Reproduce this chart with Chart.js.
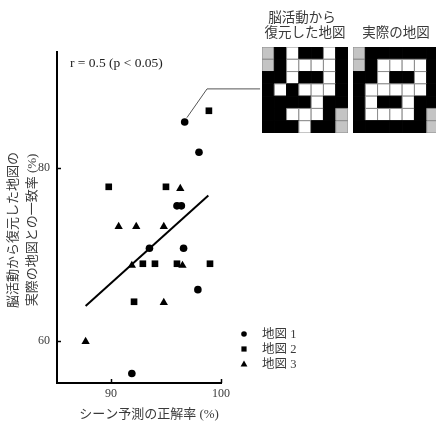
<!DOCTYPE html>
<html>
<head>
<meta charset="utf-8">
<script src="https://cdn.jsdelivr.net/npm/chart.js@4/dist/chart.umd.min.js"></script>
<style>
  html, body { margin: 0; padding: 0; background: #fff; overflow: hidden; width: 436px; height: 423px; }
  #wrap { position: relative; width: 436px; height: 423px; }
  #main { position: absolute; left: 0; top: 0; }
  #mapA { position: absolute; left: 262px; top: 47px; }
  #mapB { position: absolute; left: 353px; top: 47px; }
</style>
</head>
<body>
<div id="wrap">
  <canvas id="main" width="436" height="423"></canvas>
  <canvas id="mapA" width="86" height="86"></canvas>
  <canvas id="mapB" width="86" height="86"></canvas>
</div>
<script>
// Scene-prediction accuracy (%) vs. map agreement (%) for three maps
const map1X = [96.7, 98.0, 96.0, 96.4, 93.5, 96.6, 97.9, 91.9];
const map1Y = [85.3, 81.8, 75.6, 75.6, 70.7, 70.7, 65.9, 56.2];
const map2X = [98.9, 89.8, 95.0, 92.9, 94.0, 96.0, 99.0, 92.1];
const map2Y = [86.6, 77.8, 77.8, 68.9, 68.9, 68.9, 68.9, 64.5];
const map3X = [96.3, 90.7, 92.3, 94.8, 91.9, 96.5, 94.8, 87.7];
const map3Y = [77.6, 73.2, 73.2, 73.2, 68.7, 68.7, 64.4, 59.9];

// Fitted regression line endpoints
const fitX = [87.7, 98.85];
const fitY = [64.0, 76.8];

// Pointer from the highlighted point to the map panels
const pointerX = [96.9, 98.73, 103.55];
const pointerY = [85.8, 89.13, 89.13];

const seriesLabels = ['地図 1', '地図 2', '地図 3'];
const xTicks = [90, 100];
const yTicks = [60, 80];

// 7x7 maps: G = start/goal, B = wall, W = corridor
const decodedMap = ['GBWBBWB', 'GBWWWWB', 'BBWBBWB', 'BWBWWWB', 'BBBBWBB', 'BBWWWBG', 'BBBWBBG'];
const actualMap  = ['GBBBBBB', 'GBWWWWB', 'BBWBBWB', 'BWWWWWB', 'BWBBWBB', 'BWWWWBG', 'BBBBBBG'];

const SERIF = "'Liberation Serif', 'Noto Sans CJK JP', serif";
const TEXT = '#3a3a3a';

function zip(xs, ys) { return xs.map((x, i) => ({ x, y: ys[i] })); }

const decorations = {
  id: 'decorations',
  afterDraw(chart) {
    const { ctx, scales: { x, y } } = chart;
    const area = chart.chartArea;
    ctx.save();

    // inward tick marks
    ctx.strokeStyle = '#000';
    ctx.lineWidth = 1.5;
    xTicks.forEach(v => {
      const px = Math.round(x.getPixelForValue(v)) + 0.5;
      ctx.beginPath(); ctx.moveTo(px, area.bottom); ctx.lineTo(px, area.bottom - 4); ctx.stroke();
    });
    yTicks.forEach(v => {
      const py = Math.round(y.getPixelForValue(v)) + 0.5;
      ctx.beginPath(); ctx.moveTo(area.left, py); ctx.lineTo(area.left + 4, py); ctx.stroke();
    });

    // pointer to the map panels
    ctx.strokeStyle = '#555';
    ctx.lineWidth = 1;
    ctx.beginPath();
    pointerX.forEach((v, i) => {
      const px = x.getPixelForValue(v), py = y.getPixelForValue(pointerY[i]);
      if (i === 0) ctx.moveTo(px, py); else ctx.lineTo(px, py);
    });
    ctx.stroke();

    // correlation note
    ctx.fillStyle = '#222';
    ctx.font = '13.5px ' + SERIF;
    ctx.textAlign = 'left';
    ctx.textBaseline = 'middle';
    ctx.fillText('r = 0.5 (p < 0.05)', 70, 63);

    // axis titles
    ctx.fillStyle = TEXT;
    ctx.font = '13px ' + SERIF;
    ctx.textAlign = 'center';
    ctx.fillText('シーン予測の正解率 (%)', 149, 415);
    ctx.save();
    ctx.translate(14, 230);
    ctx.rotate(-Math.PI / 2);
    ctx.fillText('脳活動から復元した地図の', 0, 0);
    ctx.fillText('実際の地図との一致率 (%)', 0, 19);
    ctx.restore();

    // map panel titles
    ctx.font = '13.5px ' + SERIF;
    ctx.fillText('脳活動から', 302, 18);
    ctx.fillText('復元した地図', 305, 33);
    ctx.fillText('実際の地図', 396, 33);

    // legend
    ctx.textAlign = 'left';
    ctx.font = '12.5px ' + SERIF;
    chart.data.datasets.slice(0, 3).forEach((ds, i) => {
      const cx = 244, cy = 334 + i * 15;
      ctx.fillStyle = '#000';
      ctx.beginPath();
      if (ds.pointStyle === 'circle') {
        ctx.arc(cx, cy, 2.8, 0, Math.PI * 2);
      } else if (ds.pointStyle === 'rect') {
        ctx.rect(cx - 2.6, cy - 2.6, 5.2, 5.2);
      } else {
        ctx.moveTo(cx, cy - 3.6); ctx.lineTo(cx + 3.4, cy + 2.4); ctx.lineTo(cx - 3.4, cy + 2.4); ctx.closePath();
      }
      ctx.fill();
      ctx.fillStyle = TEXT;
      ctx.fillText(ds.label, 262, cy + 0.5);
    });
    ctx.restore();
  }
};

new Chart(document.getElementById('main'), {
  type: 'scatter',
  data: {
    datasets: [
      { label: seriesLabels[0], data: zip(map1X, map1Y), pointStyle: 'circle', pointRadius: 3.8,
        backgroundColor: '#000', borderColor: '#000', borderWidth: 0 },
      { label: seriesLabels[1], data: zip(map2X, map2Y), pointStyle: 'rect', pointRadius: 4.7,
        backgroundColor: '#000', borderColor: '#000', borderWidth: 0 },
      { label: seriesLabels[2], data: zip(map3X, map3Y), pointStyle: 'triangle', pointRadius: 4.8,
        backgroundColor: '#000', borderColor: '#000', borderWidth: 0 },
      { label: 'fit', data: zip(fitX, fitY), showLine: true, pointRadius: 0, borderColor: '#000',
        borderWidth: 2, fill: false }
    ]
  },
  options: {
    responsive: false,
    devicePixelRatio: 1,
    animation: false,
    events: [],
    layout: { padding: { left: 0, right: 215, top: 52, bottom: 0 } },
    plugins: { legend: { display: false }, tooltip: { enabled: false } },
    scales: {
      x: {
        type: 'linear', min: 85.1, max: 100,
        grid: { display: false, drawTicks: false },
        border: { display: true, color: '#000', width: 2 },
        afterBuildTicks: s => { s.ticks = xTicks.map(v => ({ value: v })); },
        afterFit: s => { s.height = 40; },
        ticks: { color: TEXT, font: { family: SERIF, size: 12 }, padding: 4, maxRotation: 0 }
      },
      y: {
        type: 'linear', min: 55.1, max: 93.4,
        grid: { display: false, drawTicks: false },
        border: { display: true, color: '#000', width: 2 },
        afterBuildTicks: s => { s.ticks = yTicks.map(v => ({ value: v })); },
        afterFit: s => { s.width = 57; },
        ticks: { color: TEXT, font: { family: SERIF, size: 12 }, padding: 7 }
      }
    }
  },
  plugins: [decorations]
});

// Map panels drawn as 7x7 grids of square markers
const cellFill = { B: '#000', W: '#fff', G: '#c4c4c4' };
function cells(rows) {
  const pts = [];
  rows.forEach((r, ri) => [...r].forEach((c, ci) => pts.push({ x: ci, y: ri, c })));
  return pts;
}
function mapPanel(id, rows) {
  new Chart(document.getElementById(id), {
    type: 'scatter',
    data: {
      datasets: [{
        data: cells(rows),
        pointStyle: 'rect',
        pointRadius: 8.69,
        backgroundColor: c => cellFill[c.raw.c],
        borderColor: c => (c.raw.c === 'B' ? '#000' : '#8c8c8c'),
        borderWidth: 1,
        clip: false
      }]
    },
    options: {
      responsive: false,
      devicePixelRatio: 1,
      animation: false,
      events: [],
      layout: { padding: 0, autoPadding: false },
      plugins: { legend: { display: false }, tooltip: { enabled: false } },
      scales: {
        x: { type: 'linear', min: -0.5, max: 6.5, display: false },
        y: { type: 'linear', min: -0.5, max: 6.5, reverse: true, display: false }
      }
    }
  });
}
mapPanel('mapA', decodedMap);
mapPanel('mapB', actualMap);
</script>
</body>
</html>
